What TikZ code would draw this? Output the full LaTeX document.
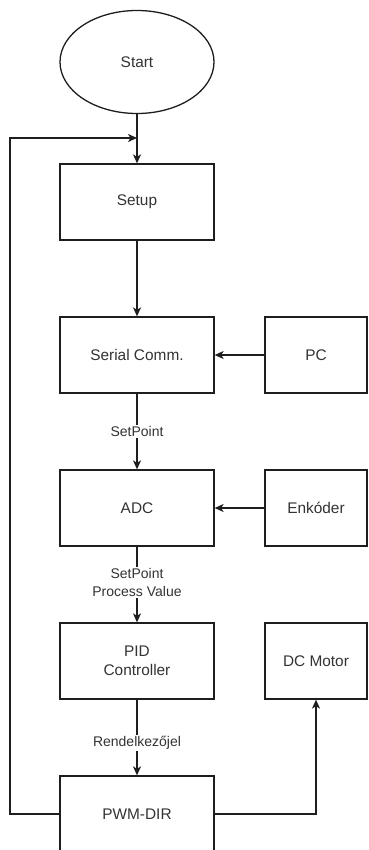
\documentclass[tikz,border=0pt]{standalone}
\usepackage{fontspec}
\setmainfont{Liberation Sans}
\usetikzlibrary{shapes.geometric,arrows.meta}
\definecolor{ink}{HTML}{1E1E1E}
\definecolor{txt}{HTML}{333333}
\tikzset{
  blk/.style={draw=ink, line width=1.3pt, fill=white, minimum width=154pt, minimum height=76pt,
              inner sep=0pt, align=center, font=\fontsize{15.4}{18.5}\selectfont, text=txt},
  sideblk/.style={blk, minimum width=102pt},
  oval/.style={ellipse, draw=ink, line width=1.3pt, minimum width=154pt, minimum height=103pt,
               inner sep=0pt, font=\fontsize{15.4}{18.5}\selectfont, text=txt},
  flow/.style={draw=ink, line width=1.3pt, -{Stealth[length=9pt,width=8pt,inset=2.5pt]}},
  lbl/.style={fill=white, inner sep=1.5pt, align=center, text=txt,
              font=\fontsize{14}{18}\selectfont}
}
\begin{document}
\begin{tikzpicture}[x=1pt,y=-1pt]
  \useasboundingbox (0,0) rectangle (368,850);
  \clip (0,0) rectangle (368,850);
  \fill[white] (0,0) rectangle (368,850);

  % main chain
  \node[oval] (start) at (137,62) {Start};
  \node[blk] (setup) at (137,202) {Setup};
  \node[blk] (serial) at (137,355) {Serial Comm.};
  \node[blk] (adc) at (137,508) {ADC};
  \node[blk] (pid) at (137,661) {PID\\Controller};
  \node[blk] (pwm) at (137,814) {PWM-DIR};

  % side blocks
  \node[sideblk] (pc) at (316,355) {PC};
  \node[sideblk] (enc) at (316,508) {Enkóder};
  \node[sideblk] (motor) at (316,661) {DC Motor};

  % feedback loop from PWM-DIR back above Setup
  \coordinate (loopcorner) at (10,138);
  \coordinate (loopjoin) at (137,138);

  \draw[flow] (start) -- (setup);
  \draw[flow] (setup) -- (serial);
  \draw[flow] (serial) -- node[lbl] {SetPoint} (adc);
  \draw[flow] (adc) -- node[lbl, pos=0.47] {SetPoint\\Process Value} (pid);
  \draw[flow] (pid) -- node[lbl, pos=0.57] {Rendelkezőjel} (pwm);
  \draw[flow] (pc) -- (serial);
  \draw[flow] (enc) -- (adc);
  \draw[flow] (pwm.east) -| (motor.south);
  \draw[flow] (pwm.west) -| (loopcorner) -- (loopjoin);
\end{tikzpicture}
\end{document}
